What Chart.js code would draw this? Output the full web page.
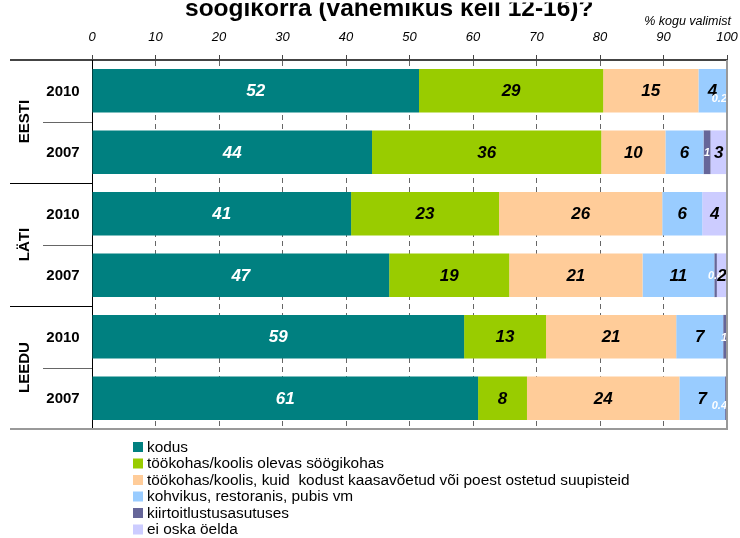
<!DOCTYPE html>
<html>
<head>
<meta charset="utf-8">
<script src="https://cdn.jsdelivr.net/npm/chart.js@4/dist/chart.umd.min.js"></script>
<style>
  html, body { margin: 0; padding: 0; background: #fff; }
  #wrap { width: 740px; height: 538px; }
</style>
</head>
<body>
<div id="wrap"><canvas id="c"></canvas></div>
<script>
const title = 'söögikorra (vahemikus kell 12-16)?';
const unitNote = '% kogu valimist';
const countries = ['EESTI', 'LÄTI', 'LEEDU'];
const years = ['2010', '2007', '2010', '2007', '2010', '2007'];

const seriesNames = [
  'kodus',
  'töökohas/koolis olevas söögikohas',
  'töökohas/koolis, kuid  kodust kaasavõetud või poest ostetud suupisteid',
  'kohvikus, restoranis, pubis vm',
  'kiirtoitlustusasutuses',
  'ei oska öelda'
];
const kodus       = [51.5, 44.1, 40.8, 46.8, 58.6, 60.8];
const soogikohas  = [29.0, 36.1, 23.3, 18.9, 12.9, 7.7];
const kaasavoetud = [15.0, 10.1, 25.7, 21.0, 20.5, 24.0];
const kohvikus    = [4.4, 6.0, 6.3, 11.3, 7.4, 7.2];
const kiirtoit    = [0.2, 1.1, 0, 0.4, 0.6, 0.4];
const eiOska      = [0, 2.6, 3.9, 1.6, 0, 0];

const colors = ['#008080', '#99cc00', '#ffcc99', '#99ccff', '#666699', '#ccccff'];
const labelColors = ['#fff', '#000', '#000', '#000', '#fff', '#000'];
const FONT = '"Liberation Sans", Arial, sans-serif';

const values = [kodus, soogikohas, kaasavoetud, kohvikus, kiirtoit, eiOska];

const fmt = v => v < 0.5 ? v.toFixed(1) : String(Math.round(v));

const extras = {
  id: 'extras',
  afterDatasetsDraw(chart) {
    const ctx = chart.ctx;
    const a = chart.chartArea;
    ctx.save();
    ctx.textAlign = 'center';
    ctx.textBaseline = 'middle';
    chart.data.datasets.forEach((ds, di) => {
      const meta = chart.getDatasetMeta(di);
      meta.data.forEach((bar, i) => {
        const v = ds.data[i];
        if (!v) return;
        const small = di === 4;
        const txt = fmt(v);
        ctx.font = small ? 'bold italic 11px ' + FONT : 'bold italic 17px ' + FONT;
        ctx.fillStyle = labelColors[di];
        let cx = (bar.x + bar.base) / 2;
        let cy = bar.y + 1;
        // keep tiny labels inside the plot, pushed below the neighbour label
        const maxX = a.right - ctx.measureText(txt).width / 2;
        if (cx > maxX) {
          if (cx - maxX > 3) cy += 7;
          cx = maxX;
        }
        ctx.fillText(txt, cx, cy);
      });
    });
    ctx.restore();
  },
  afterDraw(chart) {
    const { ctx, chartArea: a, scales: { y } } = chart;
    ctx.save();
    // title (upper part is cut off in the source image)
    ctx.save();
    ctx.beginPath();
    ctx.rect(0, 2.5, chart.width, 30);
    ctx.clip();
    ctx.fillStyle = '#000';
    ctx.textAlign = 'left';
    ctx.textBaseline = 'alphabetic';
    ctx.font = 'bold 24.5px ' + FONT;
    ctx.fillText(title, 185, 15.5);
    ctx.restore();

    ctx.fillStyle = '#000';
    ctx.textBaseline = 'alphabetic';
    ctx.font = 'italic 12.5px ' + FONT;
    ctx.textAlign = 'right';
    ctx.fillText(unitNote, a.right + 4, 25);

    // right border at 100
    ctx.strokeStyle = '#999';
    ctx.lineWidth = 2;
    ctx.beginPath();
    ctx.moveTo(a.right, a.top);
    ctx.lineTo(a.right, a.bottom);
    ctx.stroke();

    // bottom line
    ctx.beginPath();
    ctx.moveTo(10, a.bottom);
    ctx.lineTo(a.right + 1, a.bottom);
    ctx.stroke();

    // top line extension to the left
    ctx.strokeStyle = '#444';
    ctx.beginPath();
    ctx.moveTo(10, a.top);
    ctx.lineTo(a.left, a.top);
    ctx.stroke();

    // group separators and labels
    const rowH = y.getPixelForValue(1) - y.getPixelForValue(0);
    ctx.lineWidth = 1;
    for (let i = 1; i < years.length; i++) {
      const yb = Math.round(y.getPixelForValue(i) - rowH / 2) + 0.5;
      ctx.strokeStyle = i % 2 === 0 ? '#000' : '#666';
      ctx.beginPath();
      ctx.moveTo(i % 2 === 0 ? 10 : 43, yb);
      ctx.lineTo(a.left, yb);
      ctx.stroke();
    }
    ctx.fillStyle = '#000';
    ctx.font = 'bold 15px ' + FONT;
    ctx.textAlign = 'center';
    ctx.textBaseline = 'middle';
    years.forEach((yr, i) => {
      ctx.fillText(yr, 63, y.getPixelForValue(i) + 1);
    });
    countries.forEach((c, k) => {
      const yc = y.getPixelForValue(2 * k) + rowH / 2;
      ctx.save();
      ctx.translate(24, yc);
      ctx.rotate(-Math.PI / 2);
      ctx.fillText(c, 0, 1);
      ctx.restore();
    });

    // legend
    ctx.textAlign = 'left';
    ctx.font = '15.4px ' + FONT;
    seriesNames.forEach((name, i) => {
      const ly = 442 + i * 16.5;
      ctx.fillStyle = colors[i];
      ctx.fillRect(133, ly, 10, 10);
      ctx.fillStyle = '#000';
      ctx.fillText(name, 147, ly + 5.5);
    });
    ctx.restore();
  }
};

new Chart(document.getElementById('c'), {
  type: 'bar',
  data: {
    labels: years,
    datasets: seriesNames.map((name, i) => ({
      label: name,
      data: values[i],
      backgroundColor: colors[i],
      borderWidth: 0,
      categoryPercentage: 1,
      barPercentage: 0.71
    }))
  },
  options: {
    indexAxis: 'y',
    responsive: true,
    maintainAspectRatio: false,
    animation: false,
    layout: { padding: { top: 0, left: 0, right: 13, bottom: 109 } },
    plugins: {
      legend: { display: false },
      title: { display: false },
      tooltip: { enabled: false }
    },
    scales: {
      x: {
        position: 'top',
        stacked: true,
        min: 0,
        max: 100,
        afterFit: s => { s.height = 60; s.paddingLeft = 0; s.paddingRight = 0; },
        ticks: {
          stepSize: 10,
          color: '#000',
          padding: 10,
          font: { family: FONT, size: 13, style: 'italic' }
        },
        grid: {
          color: '#666',
          tickColor: '#444',
          tickLength: 5,
          drawTicks: true
        },
        border: { color: '#444', width: 2, dash: [5, 4] }
      },
      y: {
        stacked: true,
        afterFit: s => { s.width = 92; },
        ticks: { display: false },
        grid: { display: false },
        border: { color: '#000', width: 1 }
      }
    }
  },
  plugins: [extras]
});
</script>
</body>
</html>
